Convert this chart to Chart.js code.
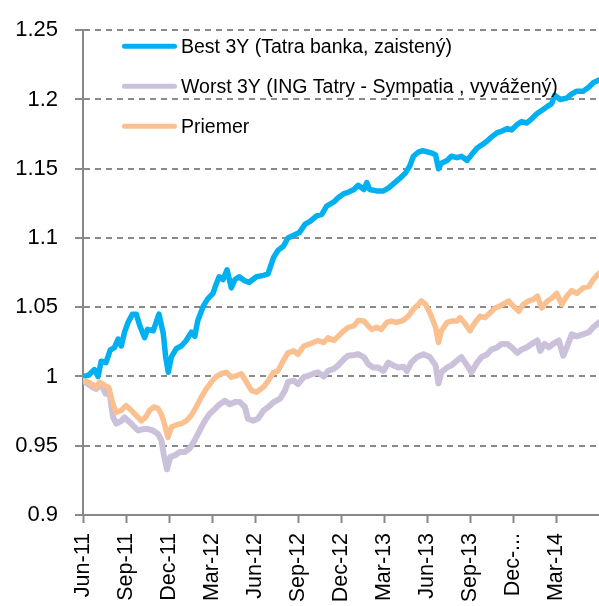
<!DOCTYPE html>
<html>
<head>
<meta charset="utf-8">
<script src="https://cdn.jsdelivr.net/npm/chart.js@4"></script>
<style>
html,body{margin:0;padding:0;background:#fff;}
#wrap{width:599px;height:606px;position:relative;}
</style>
</head>
<body>
<div id="wrap"><canvas id="c"></canvas></div>
<script>
const seriesNames = ['Best 3Y (Tatra banka, zaistený)', 'Worst 3Y (ING Tatry - Sympatia , vyvážený)', 'Priemer'];
const xTickLabels = ['Jun-11','Sep-11','Dec-11','Mar-12','Jun-12','Sep-12','Dec-12','Mar-13','Jun-13','Sep-13','Dec-...','Mar-14'];
const yTickValues = [0.9, 0.95, 1.0, 1.05, 1.1, 1.15, 1.2, 1.25];
const yTickLabels = ['0.9','0.95','1','1.05','1.1','1.15','1.2','1.25'];

// months since Jun-11
const bestMonths = [0,0.4,0.8,1.05,1.27,1.6,1.9,2.2,2.45,2.67,2.9,3.14,3.45,3.72,3.95,4.3,4.5,4.9,5.1,5.3,5.6,5.77,5.95,6.16,6.5,6.86,7.2,7.56,7.8,8.0,8.4,8.7,9.07,9.3,9.5,9.77,10.05,10.35,10.6,10.9,11.3,11.6,12.1,12.6,12.9,13.3,13.6,13.98,14.3,14.7,15.1,15.5,15.84,16.3,16.66,17.0,17.5,17.8,18.2,18.5,18.9,19.2,19.6,19.8,20.0,20.5,20.96,21.3,21.65,22.1,22.5,22.8,23.05,23.4,23.7,24.1,24.4,24.6,24.8,25.0,25.4,25.7,26.1,26.4,26.8,27.1,27.5,27.8,28.2,28.5,28.9,29.2,29.6,29.9,30.3,30.6,30.96,31.3,31.7,32.0,32.4,32.7,32.9,33.3,33.75,34.1,34.45,34.9,35.3,35.6,36];
const bestValues = [1.000,1.001,1.005,1.000,1.011,1.010,1.019,1.021,1.027,1.022,1.032,1.039,1.045,1.045,1.037,1.028,1.034,1.033,1.039,1.045,1.031,1.014,1.003,1.014,1.020,1.022,1.026,1.032,1.029,1.040,1.051,1.056,1.060,1.067,1.072,1.070,1.077,1.064,1.070,1.072,1.069,1.068,1.072,1.073,1.074,1.086,1.091,1.094,1.100,1.102,1.104,1.110,1.112,1.116,1.117,1.123,1.126,1.129,1.132,1.133,1.135,1.138,1.135,1.140,1.135,1.134,1.134,1.136,1.139,1.143,1.147,1.152,1.159,1.162,1.163,1.162,1.161,1.160,1.150,1.154,1.156,1.159,1.158,1.159,1.156,1.160,1.165,1.167,1.170,1.173,1.176,1.177,1.179,1.178,1.182,1.184,1.183,1.186,1.190,1.192,1.195,1.197,1.203,1.200,1.201,1.204,1.206,1.206,1.209,1.212,1.214];

const worstMonths = [0,0.35,0.7,0.93,1.28,1.58,1.86,2.1,2.33,2.67,2.9,3.26,3.6,3.84,4.19,4.54,4.88,5.23,5.47,5.63,5.86,6.1,6.4,6.75,7.1,7.44,7.8,8.14,8.5,8.84,9.19,9.54,9.9,10.24,10.6,10.94,11.3,11.5,11.86,12.2,12.6,12.93,13.3,13.75,14.1,14.3,14.7,15.0,15.4,15.7,16.07,16.4,16.8,17.1,17.5,17.8,18.2,18.5,18.9,19.2,19.6,19.9,20.25,20.6,20.96,21.3,21.65,22.0,22.35,22.6,22.9,23.3,23.75,24.2,24.6,24.8,25.0,25.4,25.7,26.1,26.4,26.8,27.1,27.5,27.8,28.2,28.5,28.9,29.2,29.6,29.9,30.3,30.6,30.96,31.3,31.7,31.9,32.2,32.5,32.8,33.2,33.5,33.75,34.1,34.45,34.9,35.3,35.6,36];
const worstValues = [0.997,0.9945,0.992,0.991,0.9945,0.9875,0.9875,0.9705,0.966,0.968,0.9705,0.967,0.9635,0.961,0.962,0.962,0.961,0.9585,0.954,0.944,0.933,0.942,0.943,0.9455,0.9455,0.948,0.954,0.961,0.968,0.973,0.9765,0.980,0.9825,0.980,0.9815,0.9815,0.978,0.9695,0.968,0.9695,0.9755,0.978,0.9815,0.984,0.990,0.996,0.997,0.9945,0.9995,1.0005,1.002,1.003,1.000,1.004,1.0055,1.008,1.0125,1.015,1.0155,1.016,1.014,1.009,1.0065,1.0065,1.004,1.010,1.008,1.0065,1.007,1.004,1.010,1.014,1.016,1.014,1.008,0.995,1.003,1.0065,1.008,1.0115,1.014,1.008,1.003,1.010,1.014,1.016,1.0195,1.021,1.0235,1.0235,1.021,1.017,1.0195,1.021,1.0235,1.026,1.0185,1.0235,1.021,1.0235,1.026,1.015,1.021,1.0305,1.029,1.0305,1.032,1.0355,1.039];

const avgMonths = [0,0.35,0.7,0.93,1.16,1.5,1.8,2.05,2.3,2.67,3.0,3.37,3.7,4.07,4.4,4.65,4.93,5.23,5.5,5.7,5.93,6.17,6.5,6.86,7.2,7.56,7.9,8.25,8.6,8.95,9.3,9.65,10.0,10.35,10.7,11.05,11.4,11.75,12.1,12.6,12.93,13.3,13.6,13.98,14.3,14.7,15.0,15.4,15.7,16.07,16.4,16.8,17.1,17.5,17.8,18.2,18.5,18.9,19.2,19.6,19.9,20.15,20.5,20.8,21.2,21.5,21.9,22.35,22.7,23.05,23.4,23.6,23.9,24.2,24.6,24.8,25.0,25.4,25.7,26.1,26.3,26.66,27.0,27.35,27.7,28.05,28.4,28.75,29.1,29.45,29.7,30.0,30.4,30.7,31.07,31.4,31.7,32.0,32.4,32.7,33.05,33.4,33.75,34.1,34.45,34.9,35.3,35.6,36];
const avgValues = [0.997,0.996,0.994,0.992,0.996,0.9935,0.992,0.9815,0.974,0.9755,0.979,0.9755,0.972,0.968,0.971,0.9755,0.978,0.977,0.972,0.965,0.956,0.9635,0.965,0.966,0.968,0.972,0.978,0.985,0.991,0.996,1.000,1.002,1.003,0.9995,1.0005,1.002,0.996,0.990,0.9886,0.9925,0.997,1.003,1.004,1.0115,1.017,1.0185,1.016,1.022,1.023,1.0245,1.026,1.0245,1.028,1.026,1.029,1.033,1.0355,1.0365,1.0405,1.040,1.0365,1.034,1.0355,1.034,1.039,1.040,1.039,1.0405,1.0435,1.0485,1.052,1.0545,1.052,1.046,1.0355,1.0245,1.033,1.039,1.040,1.040,1.0425,1.038,1.033,1.039,1.0435,1.0425,1.046,1.0495,1.051,1.053,1.0545,1.051,1.047,1.052,1.0545,1.0555,1.058,1.0495,1.0545,1.0565,1.060,1.052,1.058,1.062,1.060,1.064,1.065,1.070,1.0745];

const colors = ['#00B0F0', '#CCC1DA', '#FAC090'];
const FONT = '"Liberation Sans", Arial, Helvetica, sans-serif';

function pts(xs, ys) { return xs.map((x, i) => ({x: x, y: ys[i]})); }

const legendPlugin = {
  id: 'insideLegend',
  afterDatasetsDraw(chart) {
    const ctx = chart.ctx;
    const a = chart.chartArea;
    chart.data.datasets.forEach((ds, i) => {
      const y = a.top + 16 + i * 40;
      ctx.save();
      ctx.strokeStyle = ds.borderColor;
      ctx.lineWidth = 5;
      ctx.lineCap = 'round';
      ctx.beginPath();
      ctx.moveTo(a.left + 41.5, y);
      ctx.lineTo(a.left + 91.5, y);
      ctx.stroke();
      ctx.fillStyle = '#000';
      ctx.font = '19.5px ' + FONT;
      ctx.textBaseline = 'alphabetic';
      ctx.textAlign = 'left';
      ctx.fillText(ds.label, a.left + 98, y + 7);
      ctx.restore();
    });
  }
};

new Chart(document.getElementById('c'), {
  type: 'line',
  data: {
    datasets: [
      {label: seriesNames[0], data: pts(bestMonths, bestValues), borderColor: colors[0], backgroundColor: colors[0], borderWidth: 5.5, order: 3},
      {label: seriesNames[1], data: pts(worstMonths, worstValues), borderColor: colors[1], backgroundColor: colors[1], borderWidth: 6, order: 2},
      {label: seriesNames[2], data: pts(avgMonths, avgValues), borderColor: colors[2], backgroundColor: colors[2], borderWidth: 5.5, order: 1}
    ]
  },
  options: {
    responsive: true,
    maintainAspectRatio: false,
    animation: false,
    devicePixelRatio: 1,
    elements: {
      point: {radius: 0, hoverRadius: 0},
      line: {tension: 0, borderJoinStyle: 'round', borderCapStyle: 'round', fill: false}
    },
    layout: {padding: {left: 0, right: 0, top: 28, bottom: 0}},
    plugins: {legend: {display: false}, tooltip: {enabled: false}},
    scales: {
      x: {
        type: 'linear',
        min: 0,
        max: 36,
        afterBuildTicks: (s) => { s.ticks = xTickLabels.map((_, i) => ({value: i * 3})); },
        afterFit: (s) => { s.height = 91; },
        ticks: {
          autoSkip: false,
          minRotation: 90,
          maxRotation: 90,
          padding: 10,
          color: '#000',
          font: {family: FONT, size: 21.5},
          callback: (v) => xTickLabels[Math.round(v / 3)]
        },
        grid: {display: true, drawOnChartArea: false, drawTicks: true, tickLength: 8, tickColor: '#888', tickWidth: 2, color: '#888'},
        border: {display: true, color: '#888', width: 2}
      },
      y: {
        type: 'linear',
        min: 0.9,
        max: 1.25,
        afterBuildTicks: (s) => { s.ticks = yTickValues.map(v => ({value: v})); },
        afterFit: (s) => { s.width = 83; },
        ticks: {
          padding: 17,
          color: '#000',
          font: {family: FONT, size: 22},
          callback: (v) => { const i = yTickValues.findIndex(t => Math.abs(t - v) < 1e-6); return i >= 0 ? yTickLabels[i] : ''; }
        },
        grid: {display: true, drawOnChartArea: true, drawTicks: true, tickLength: 8, color: '#8a8a8a', lineWidth: 2, tickColor: '#8a8a8a', tickWidth: 2, borderDash: [6, 5]},
        border: {display: true, color: '#888', width: 2, dash: [6, 5]}
      }
    }
  },
  plugins: [legendPlugin]
});
</script>
</body>
</html>
